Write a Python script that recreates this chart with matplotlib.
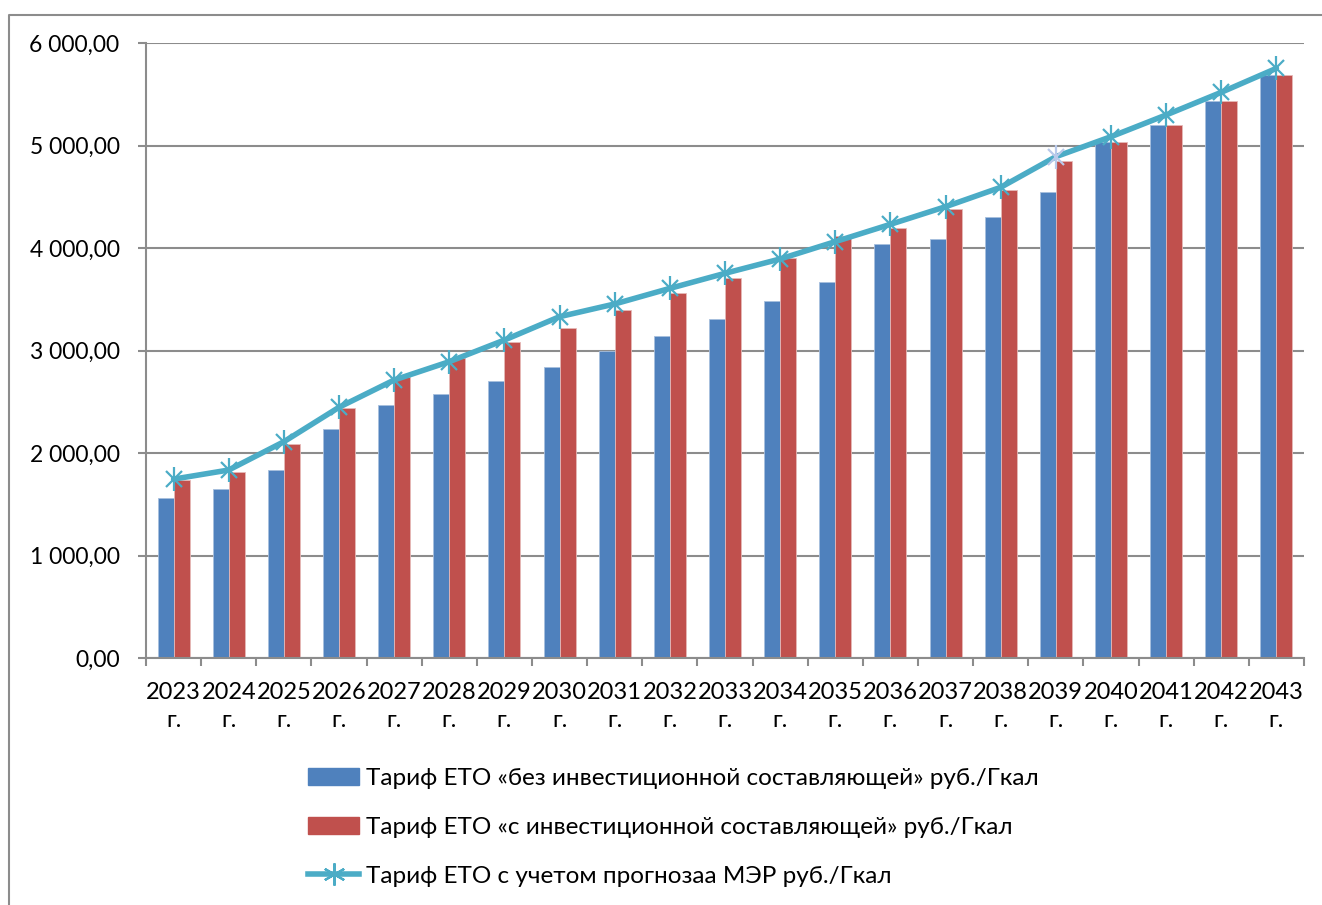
import numpy as np
import matplotlib
matplotlib.use('Agg')
import matplotlib.pyplot as plt
from matplotlib.lines import Line2D
from matplotlib.patches import Patch

plt.rcParams['font.family'] = ['Lato', 'Noto Sans', 'DejaVu Sans']

years = ['2023', '2024', '2025', '2026', '2027', '2028', '2029', '2030', '2031', '2032', '2033',
         '2034', '2035', '2036', '2037', '2038', '2039', '2040', '2041', '2042', '2043']
no_invest = [1558, 1649, 1837, 2234, 2465, 2572, 2698, 2839, 2995, 3145, 3311,
             3483, 3668, 4039, 4084, 4306, 4543, 5031, 5200, 5431, 5688]
with_invest = [1737, 1818, 2085, 2436, 2740, 2924, 3086, 3220, 3395, 3565, 3711,
               3899, 4120, 4192, 4380, 4566, 4852, 5031, 5200, 5431, 5685]
mer_forecast = [1745, 1834, 2110, 2446, 2712, 2891, 3102, 3330, 3454, 3606, 3753,
                3893, 4062, 4231, 4403, 4592, 4891, 5086, 5298, 5519, 5753]

labels = ['Тариф ЕТО «без инвестиционной составляющей» руб./Гкал',
          'Тариф ЕТО «с инвестиционной составляющей» руб./Гкал',
          'Тариф ЕТО с учетом прогнозаа МЭР руб./Гкал']

blue = '#4F81BD'
red = '#C0504D'
teal = '#4BACC6'
grid = '#8C8C8C'

fig = plt.figure(figsize=(13.22, 9.05), dpi=100)
ax = fig.add_axes([146/1322, 1 - 658/905, 1158/1322, 615/905])

x = np.arange(len(years))
w = 0.29
ax.bar(x - w/2, no_invest, w, color=blue, edgecolor='#A7BFDE', linewidth=0.6, zorder=2)
ax.bar(x + w/2, with_invest, w, color=red, edgecolor='#E6B9B8', linewidth=0.6, zorder=2)

ax.plot(x, mer_forecast, color=teal, lw=4, zorder=3, solid_capstyle='round')
mcol = [teal] * len(years)
mcol[16] = '#B9C9EA'
for i in range(len(years)):
    ax.plot(x[i], mer_forecast[i], marker='x', ms=12, mew=1.6, color=mcol[i], zorder=4)
    ax.plot(x[i], mer_forecast[i], marker='|', ms=17, mew=1.6, color=mcol[i], zorder=4)

ax.set_xlim(-0.5, len(years) - 0.5)
ax.set_ylim(0, 6000)
ax.set_yticks(np.arange(0, 6001, 1000))
ax.set_yticklabels([f'{v:,.2f}'.replace(',', ' ').replace('.', ',') for v in range(0, 6001, 1000)])
ax.set_xticks(x)
ax.set_xticklabels([y + '\nг.' for y in years], linespacing=1.45)
ax.set_xticks(np.arange(-0.5, len(years), 1), minor=True)

ax.yaxis.grid(True, color=grid, lw=1.5, zorder=0)
ax.set_axisbelow(True)
for s in ['top', 'right']:
    ax.spines[s].set_visible(False)
ax.spines['left'].set_color(grid)
ax.spines['bottom'].set_color(grid)
ax.spines['left'].set_linewidth(1.5)
ax.spines['bottom'].set_linewidth(1.5)

ax.tick_params(axis='y', length=6, width=1.5, color=grid, pad=13, labelsize=16.5)
ax.tick_params(axis='x', which='major', length=0, pad=17, labelsize=17)
ax.tick_params(axis='x', which='minor', length=6, width=1.5, color=grid)

handles = [Patch(color=blue), Patch(color=red),
           Line2D([], [], color=teal, lw=4, marker=(6, 2, 0), ms=16, mew=1.6)]
fig.legend(handles, labels, loc='upper left', bbox_to_anchor=(308/1322, 1 - 768/905),
           frameon=False, fontsize=17.5, handlelength=2.1, handletextpad=0.3,
           labelspacing=1.15, borderaxespad=0, borderpad=0)

fig.add_artist(Line2D([9/1322, 9/1322, 1], [0, 1 - 15/905, 1 - 15/905],
                      color=grid, lw=1.5, transform=fig.transFigure))

fig.savefig('out.png', dpi=100)
